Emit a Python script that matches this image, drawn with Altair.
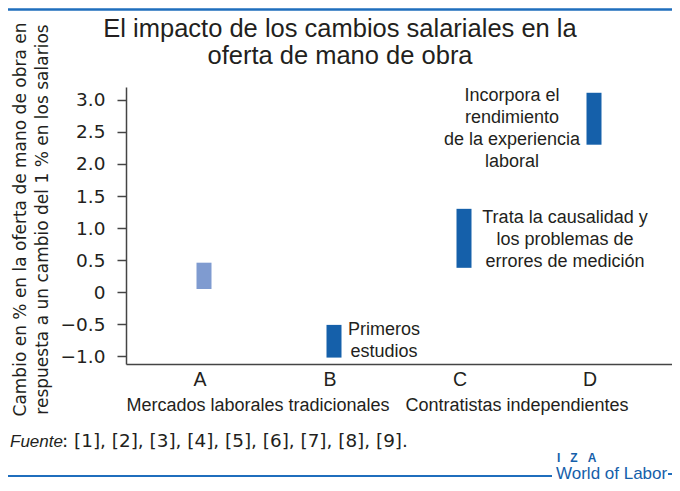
import altair as alt
import pandas as pd

# ---- data ----
categories = ["A", "B", "C", "D"]
low_values = [0.05, -1.02, 0.38, 2.30]
high_values = [0.46, -0.51, 1.30, 3.11]
bar_colors = ["#7f9bd0", "#1560aa", "#1560aa", "#1560aa"]

y_ticks = [-1.0, -0.5, 0, 0.5, 1.0, 1.5, 2.0, 2.5, 3.0]

title_lines = ["El impacto de los cambios salariales en la", "oferta de mano de obra"]
y_title_lines = ["Cambio en % en la oferta de mano de obra en",
                 "respuesta a un cambio del 1 % en los salarios"]
group_labels = ["Mercados laborales tradicionales", "Contratistas independientes"]
note_D = ["Incorpora el", "rendimiento", "de la experiencia", "laboral"]
note_C = ["Trata la causalidad y", "los problemas de", "errores de medición"]
note_B = ["Primeros", "estudios"]
source_word = "Fuente"
source_refs = ": [1], [2], [3], [4], [5], [6], [7], [8], [9]."
logo_top = "I\u00a0\u00a0\u00a0Z\u00a0\u00a0\u00a0A"
logo_bottom = "World of Labor"

df = pd.DataFrame({"cat": categories, "lo": low_values, "hi": high_values, "color": bar_colors})

TXT = "#231f20"
BLUE = "#1f6ebd"
W, H = 546, 277

xscale = alt.Scale(type="point", domain=categories, padding=0.6)
yscale = alt.Scale(domain=[-1.12, 3.2], nice=False, zero=False)

x_axis = alt.Axis(title=None, ticks=False, tickSize=0, labelPadding=6, labelAngle=0,
                  labelFont="Liberation Sans", labelFontSize=19.5, labelColor=TXT,
                  labelOffset=-4.5, domainColor="#444", domainWidth=1.5, grid=False)
y_axis = alt.Axis(values=y_ticks, grid=False,
                  labelExpr="datum.value == 0 ? '0' : format(datum.value, '.1f')",
                  tickSize=9, tickWidth=1.5, tickColor="#444",
                  domainColor="#444", domainWidth=1.5,
                  labelFont="DejaVu Sans", labelFontSize=18.5, labelColor=TXT, labelPadding=12,
                  title=y_title_lines, titleFont="DejaVu Sans", titleFontSize=17,
                  titleFontWeight="normal", titleColor=TXT, titleX=-106, titleY=132,
                  titleAngle=270, titleBaseline="middle", titleAlign="center",
                  titleLineHeight=22)

base = alt.Chart(df)

bars = base.mark_bar(size=15).encode(
    x=alt.X("cat:N", scale=xscale, sort=categories, axis=x_axis),
    y=alt.Y("lo:Q", scale=yscale, axis=y_axis),
    y2="hi:Q",
    color=alt.Color("color:N", scale=None),
)


def note(cat, lines, dx, dy):
    return base.transform_filter(alt.datum.cat == cat).mark_text(
        align="center", baseline="top", font="Liberation Sans", fontSize=18,
        lineHeight=22, color=TXT, dx=dx, dy=dy,
    ).encode(
        x=alt.X("cat:N", scale=xscale, sort=categories, axis=x_axis),
        y=alt.Y("hi:Q", scale=yscale, axis=y_axis),
        text=alt.value(lines),
    )


noteD = note("D", note_D, -82, -5.3)
noteC = note("C", note_C, 101, 0)
noteB = note("B", note_B, 50, -4.1)

one = alt.Data(values=[{"k": 1}])


def label(text, x, y, **kw):
    return alt.Chart(one).mark_text(**kw).encode(
        x=alt.value(x), y=alt.value(y), text=alt.value(text))


title_txt = label(title_lines, 214, -70.5, align="center", baseline="top",
                  font="Liberation Sans", fontSize=25.5, lineHeight=27, color=TXT)

grp1 = label(group_labels[0], 132, 324, align="center", baseline="alphabetic",
             font="Liberation Sans", fontSize=18, color=TXT)
grp2 = label(group_labels[1], 391, 324, align="center", baseline="alphabetic",
             font="Liberation Sans", fontSize=18, color=TXT)

src1 = label(source_word, -116, 360, align="left", baseline="alphabetic",
             font="Liberation Sans", fontSize=17, fontStyle="italic", color=TXT)
src2 = label(source_refs, -64, 360, align="left", baseline="alphabetic",
             font="DejaVu Sans", fontSize=18.4, color=TXT)

logo1 = label(logo_top, 431, 375, align="left", baseline="alphabetic",
              font="Liberation Sans", fontSize=12, fontWeight="bold", color="#1560aa")
logo2 = label(logo_bottom, 430, 392, align="left", baseline="alphabetic",
              font="Liberation Sans", fontSize=17, color="#1560aa")


def hline(x1, x2, y, w):
    return alt.Chart(one).mark_rule(color=BLUE, strokeWidth=w).encode(
        x=alt.value(x1), x2=alt.value(x2), y=alt.value(y))


top_line = hline(-118, 546, -77.5, 2.5)
bottom_line = hline(-118, 426, 389, 2)
tail_line = hline(542, 546, 387, 2)

chart = alt.layer(
    bars, noteD, noteC, noteB, title_txt, grp1, grp2, src1, src2, logo1, logo2,
    top_line, bottom_line, tail_line,
).properties(
    width=W, height=H,
    autosize=alt.AutoSizeParams(type="none"),
    padding={"left": 118, "top": 79, "right": 0, "bottom": 119},
    background="white",
).configure_view(stroke=None)

chart.save("out.html", embed_options={"renderer": "svg", "actions": False})
